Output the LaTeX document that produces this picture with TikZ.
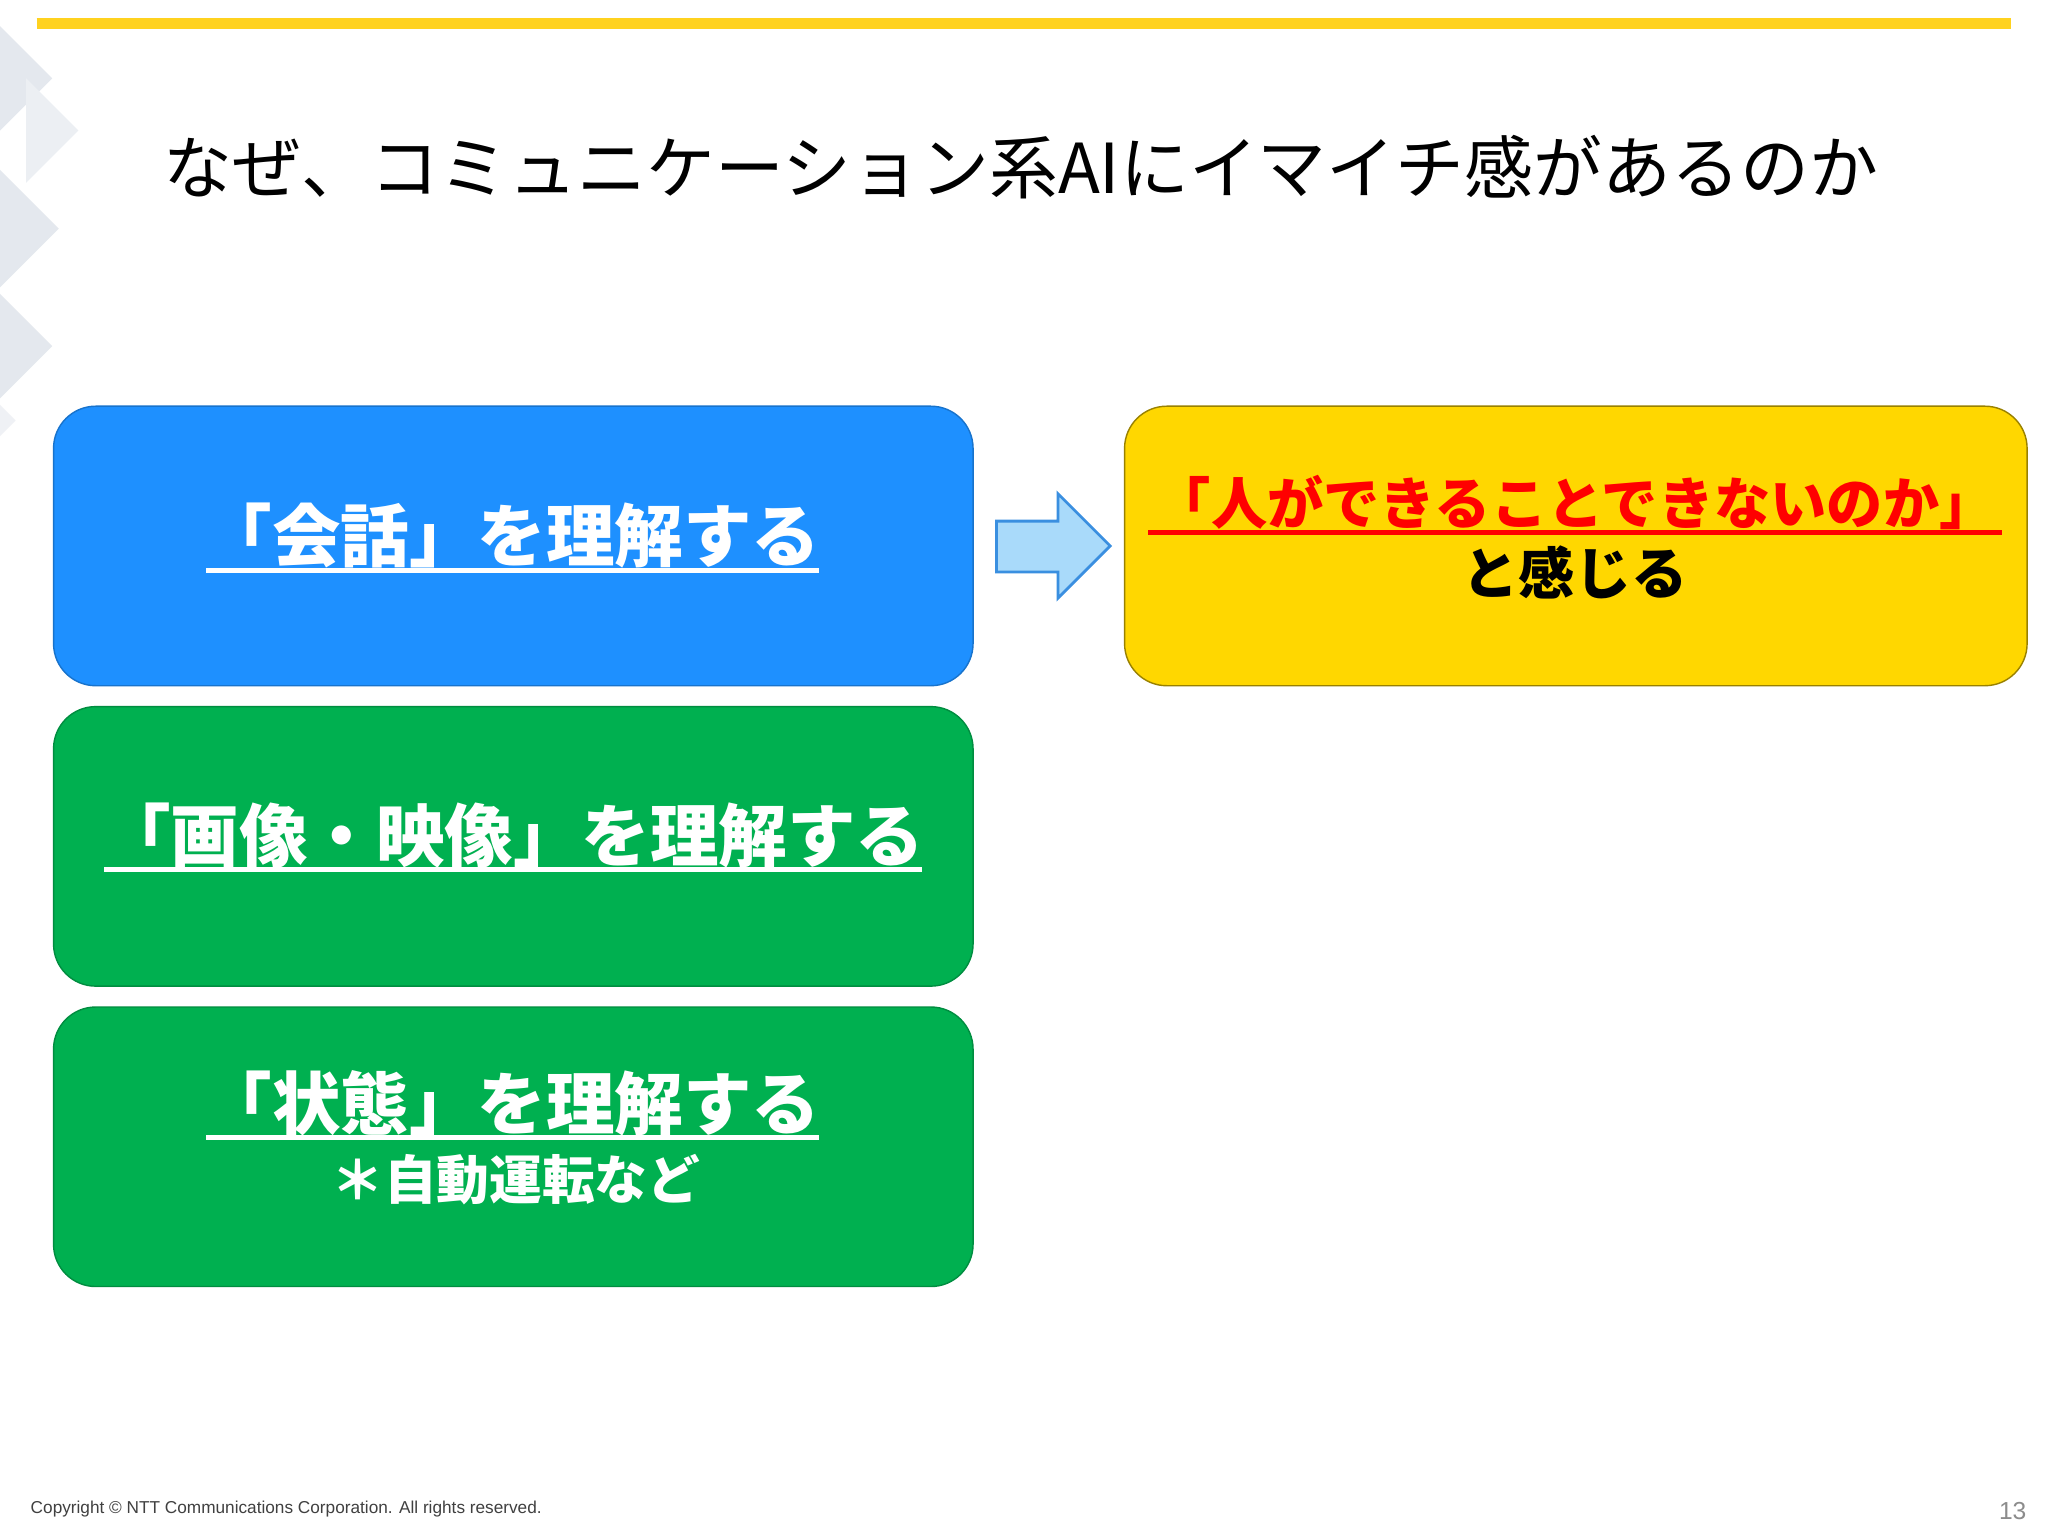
\documentclass[tikz,border=0pt]{standalone}
\usepackage{fontspec}
\setmainfont{Noto Sans CJK JP}
\newfontfamily\latinf{Liberation Sans}
\definecolor{topbarcol}{HTML}{FFD21F}
\definecolor{bbox}{HTML}{1E90FF}
\definecolor{gbox}{HTML}{00B050}
\definecolor{yboxcol}{HTML}{FFD700}
\definecolor{arrfill}{HTML}{A9DAFA}
\definecolor{arrline}{HTML}{3A8FE0}
\definecolor{deco}{HTML}{E4E8EE}
\tikzset{
  panel/.style={rounded corners=12pt},
  wtxt/.style={text=white,font=\bfseries\fontsize{19.5}{22}\selectfont,inner sep=0pt},
  uline/.style={line width=1.4pt},
}
\begin{document}
\begin{tikzpicture}[x=0.013061cm,y=-0.013061cm]
\useasboundingbox (0,0) rectangle (1568,1176);
\fill[white] (0,0) rectangle (1568,1176);
% left decoration
\fill[deco] (0,20) -- (40,60) -- (0,100) -- cycle;
\fill[deco] (0,130) -- (45,175) -- (0,220) -- cycle;
\fill[deco] (0,225) -- (40,265) -- (0,305) -- cycle;
\fill[deco!70] (20,60) -- (60,100) -- (20,140) -- cycle;
\fill[deco!60] (0,310) -- (12,322) -- (0,334) -- cycle;
% top bar
\draw[draw=topbarcol,line width=3pt] (28,18) -- (1540,18);
% title
\node[anchor=west,inner sep=0pt,font=\fontsize{19.6}{22}\selectfont] (title) at (125,128) {なぜ、コミュニケーション系AIにイマイチ感があるのか};
% boxes
\filldraw[panel,fill=bbox,draw=bbox!80!black] (41,311) rectangle (745,525);
\filldraw[panel,fill=gbox,draw=gbox!80!black] (41,541) rectangle (745,755);
\filldraw[panel,fill=gbox,draw=gbox!80!black] (41,771) rectangle (745,985);
\filldraw[panel,fill=yboxcol,draw=yboxcol!60!black] (861,311) rectangle (1552,525);
% texts
\node[wtxt] (t1) at (392,410) {「会話」を理解する};
\draw[white,uline] (158,437) -- (627,437);
\node[wtxt] (t2) at (393,640) {「画像・映像」を理解する};
\draw[white,uline] (80,666) -- (706,666);
\node[wtxt] (t3) at (392,845) {「状態」を理解する};
\draw[white,uline] (158,871) -- (627,871);
\node[text=white,font=\bfseries\fontsize{15}{18}\selectfont,inner sep=0pt] (t4) at (395,903) {＊自動運転など};
\node[text=red,font=\bfseries\fontsize{16}{19}\selectfont,inner sep=0pt] (t5) at (1206,385) {「人ができることできないのか」};
\draw[red,uline] (879,408) -- (1533,408);
\node[text=black,font=\bfseries\fontsize{16}{19}\selectfont,inner sep=0pt] (t6) at (1206,438) {と感じる};
% arrow
\filldraw[fill=arrfill,draw=arrline,line width=0.8pt] (763,399) -- (810,399) -- (810,378) -- (850,418) -- (810,458) -- (810,438) -- (763,438) -- cycle;
% footer
\node[anchor=west,inner sep=0pt,text=black!75,font=\latinf\fontsize{4.9}{6}\selectfont] (copy) at (23,1155) {Copyright © NTT Communications Corporation. All rights reserved.};
\node[anchor=east,inner sep=0pt,text=black!45,font=\latinf\fontsize{7}{8}\selectfont] (pg) at (1552,1157) {13};
\end{tikzpicture}
\end{document}
